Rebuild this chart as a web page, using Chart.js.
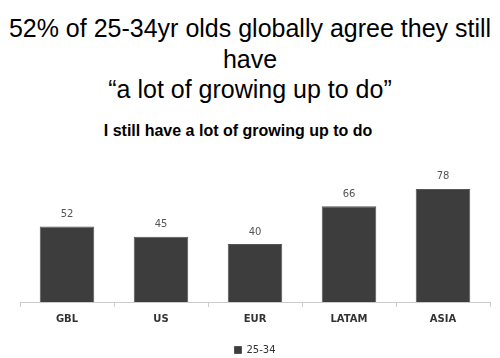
<!DOCTYPE html>
<html>
<head>
<meta charset="utf-8">
<script src="https://cdn.jsdelivr.net/npm/chart.js@4"></script>
<style>
  html, body { margin: 0; padding: 0; background: #fff; }
  #wrap { position: relative; width: 500px; height: 358px; overflow: hidden; }
  .title { position: absolute; left: 0; width: 500px; text-align: center;
    font-family: "Liberation Sans", Arial, sans-serif; color: #000; }
  #t1 { top: 13px; font-size: 25px; line-height: 30.5px; white-space: nowrap; }
  #t2 { top: 122px; left: -12px; font-size: 16px; font-weight: bold; }
  canvas { position: absolute; left: 0; top: 9px; }
</style>
</head>
<body>
<div id="wrap">
  <div class="title" id="t1">52% of 25-34yr olds globally agree they still<br>have<br>“a lot of growing up to do”</div>
  <div class="title" id="t2">I still have a lot of growing up to do</div>
  <canvas id="myChart" width="500" height="358"></canvas>
</div>
<script>
const categories = ['GBL', 'US', 'EUR', 'LATAM', 'ASIA'];
const seriesName = '25-34';
const values = [52, 45, 40, 66, 78];

const ctx = document.getElementById('myChart');

const valueLabels = {
  id: 'valueLabels',
  afterDatasetsDraw(chart) {
    const c = chart.ctx;
    const meta = chart.getDatasetMeta(0);
    c.save();
    c.font = '10px "DejaVu Sans"';
    c.fillStyle = '#555';
    c.textAlign = 'center';
    c.textBaseline = 'bottom';
    meta.data.forEach((bar, i) => {
      c.fillText(values[i], bar.x, bar.y - 7);
    });
    c.restore();
  }
};

new Chart(ctx, {
  type: 'bar',
  data: {
    labels: categories,
    datasets: [{
      label: seriesName,
      data: values,
      backgroundColor: '#3d3d3d',
      borderColor: '#555',
      borderWidth: 1,
      categoryPercentage: 1,
      barPercentage: 0.58
    }]
  },
  options: {
    responsive: false,
    animation: false,
    layout: { padding: { top: 148, left: 20, right: 10, bottom: 2 } },
    plugins: {
      legend: {
        position: 'bottom',
        labels: {
          boxWidth: 7, boxHeight: 7, padding: 14,
          color: '#333',
          font: { family: 'DejaVu Sans', size: 10 }
        }
      },
      tooltip: { enabled: false }
    },
    scales: {
      y: { display: false, min: 0, max: 100 },
      x: {
        grid: { offset: true, drawOnChartArea: false, tickLength: 5, color: '#ccc' },
        border: { color: '#ccc' },
        ticks: {
          color: '#333', padding: 6,
          font: { family: 'DejaVu Sans', size: 10, weight: 'bold' }
        }
      }
    }
  },
  plugins: [valueLabels]
});
</script>
</body>
</html>
